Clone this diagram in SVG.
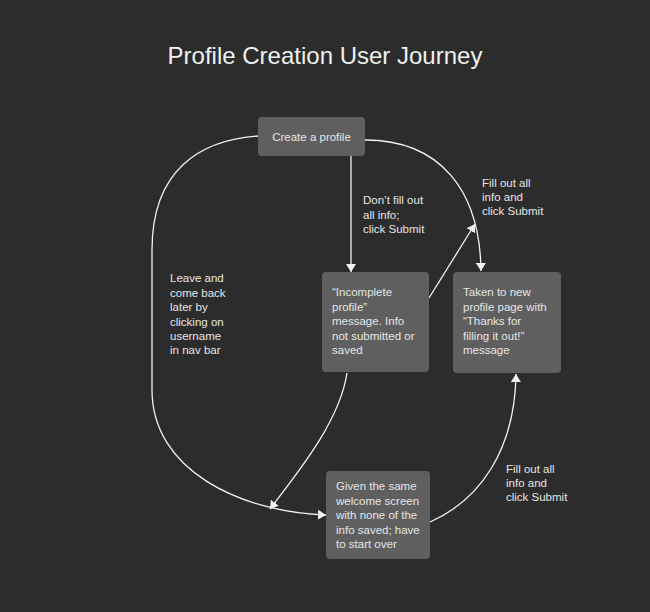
<svg xmlns="http://www.w3.org/2000/svg" width="650" height="612" viewBox="0 0 650 612">
<style>
.node rect{fill:#5f5f5f;}
.t{font-family:"Liberation Sans",Arial,sans-serif;font-size:11.5px;fill:#e6e6e6;}
.lbl{font-family:"Liberation Sans",Arial,sans-serif;font-size:11.5px;fill:#e6e6e6;}
.title{font-family:"Liberation Sans",Arial,sans-serif;font-size:24px;fill:#f0f0f0;}
.edge{fill:none;stroke:#f2f2f2;stroke-width:1.3;marker-end:url(#arr);}
</style>
<defs>
<marker id="arr" viewBox="0 0 8 10" refX="8" refY="5" markerWidth="8" markerHeight="10" markerUnits="userSpaceOnUse" orient="auto">
<path d="M0,0 L8,5 L0,10 z" fill="#f2f2f2"/>
</marker>
</defs>
<rect width="650" height="612" fill="#2c2c2c"/>
<text class="title" x="325" y="64" text-anchor="middle">Profile Creation User Journey</text>
<g id="connectors">
<path class="edge" d="M351,156 L351,272"/>
<path class="edge" d="M365,140 C440,140 480,190 481,271"/>
<path class="edge" d="M429,298 L475,224"/>
<path class="edge" d="M258,136 C200,140 152,170 152,250 L152,390 C152,470 240,512 326,515"/>
<path class="edge" d="M347,373 C340,420 300,470 270,509"/>
<path class="edge" d="M430,522 C480,500 515,450 516,374"/>
</g>
<g id="labels">
<text class="lbl" x="363" y="204">Don’t fill out</text>
<text class="lbl" x="363" y="219">all info;</text>
<text class="lbl" x="363" y="233">click Submit</text>
<text class="lbl" x="482" y="187">Fill out all</text>
<text class="lbl" x="482" y="201">info and</text>
<text class="lbl" x="482" y="215">click Submit</text>
<text class="lbl" x="170" y="282">Leave and</text>
<text class="lbl" x="170" y="297">come back</text>
<text class="lbl" x="170" y="311">later by</text>
<text class="lbl" x="170" y="326">clicking on</text>
<text class="lbl" x="170" y="340">username</text>
<text class="lbl" x="170" y="354">in nav bar</text>
<text class="lbl" x="506" y="473">Fill out all</text>
<text class="lbl" x="506" y="487">info and</text>
<text class="lbl" x="506" y="501">click Submit</text>
</g>
<g id="node-create" class="node">
<rect x="258" y="117" width="107" height="39" rx="4"/>
<text class="t" x="311.5" y="141" text-anchor="middle">Create a profile</text>
</g>
<g id="node-incomplete" class="node">
<rect x="322" y="272" width="107" height="100" rx="4"/>
<text class="t" x="332" y="296">“Incomplete</text>
<text class="t" x="332" y="311">profile”</text>
<text class="t" x="332" y="325">message. Info</text>
<text class="t" x="332" y="340">not submitted or</text>
<text class="t" x="332" y="354">saved</text>
</g>
<g id="node-taken" class="node">
<rect x="453" y="272" width="108" height="101" rx="4"/>
<text class="t" x="463" y="296">Taken to new</text>
<text class="t" x="463" y="311">profile page with</text>
<text class="t" x="463" y="325">“Thanks for</text>
<text class="t" x="463" y="340">filling it out!”</text>
<text class="t" x="463" y="354">message</text>
</g>
<g id="node-given" class="node">
<rect x="326" y="471" width="104" height="88" rx="4"/>
<text class="t" x="336" y="490">Given the same</text>
<text class="t" x="336" y="505">welcome screen</text>
<text class="t" x="336" y="519">with none of the</text>
<text class="t" x="336" y="534">info saved; have</text>
<text class="t" x="336" y="548">to start over</text>
</g>
</svg>
